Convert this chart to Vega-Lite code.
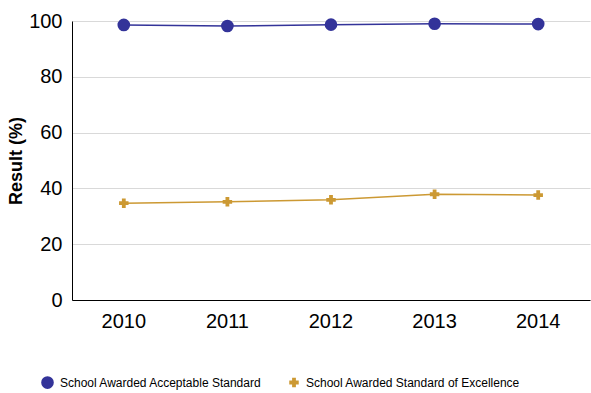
{
  "$schema": "https://vega.github.io/schema/vega-lite/v6.json",
  "autosize": "none",
  "width": 518,
  "height": 279,
  "padding": {"left": 72, "top": 21, "right": 1, "bottom": 93},
  "background": "white",
  "config": {
    "font": "Liberation Sans",
    "view": {"stroke": null}
  },
  "data": {
    "values": [
      {"year": "2010", "series": "School Awarded Acceptable Standard", "value": 98.6},
      {"year": "2011", "series": "School Awarded Acceptable Standard", "value": 98.2},
      {"year": "2012", "series": "School Awarded Acceptable Standard", "value": 98.7},
      {"year": "2013", "series": "School Awarded Acceptable Standard", "value": 99.0},
      {"year": "2014", "series": "School Awarded Acceptable Standard", "value": 98.9},
      {"year": "2010", "series": "School Awarded Standard of Excellence", "value": 34.7},
      {"year": "2011", "series": "School Awarded Standard of Excellence", "value": 35.2},
      {"year": "2012", "series": "School Awarded Standard of Excellence", "value": 35.9},
      {"year": "2013", "series": "School Awarded Standard of Excellence", "value": 37.9},
      {"year": "2014", "series": "School Awarded Standard of Excellence", "value": 37.6}
    ]
  },
  "encoding": {
    "x": {
      "field": "year", "type": "ordinal",
      "scale": {"type": "band", "paddingInner": 0, "paddingOuter": 0},
      "axis": {"title": null, "labelAngle": 0, "labelFontSize": 20, "labelColor": "#000", "labelPadding": 11, "ticks": false, "domainColor": "#000", "domainWidth": 1, "grid": false}
    },
    "y": {
      "field": "value", "type": "quantitative",
      "scale": {"domain": [0, 100]},
      "axis": {"title": "Result (%)", "titleFontSize": 18, "titleFontWeight": "bold", "titleColor": "#000", "titlePadding": 3,
        "values": [0, 20, 40, 60, 80, 100], "labelFontSize": 20, "labelColor": "#000", "labelPadding": 10, "ticks": false,
        "domainColor": "#000", "domainWidth": 1, "gridColor": "#d9d9d9", "gridWidth": 1}
    },
    "color": {
      "field": "series", "type": "nominal",
      "scale": {"domain": ["School Awarded Acceptable Standard", "School Awarded Standard of Excellence"], "range": ["#333399", "#CC9933"]},
      "legend": {
        "title": null, "orient": "none", "direction": "horizontal", "legendX": -31, "legendY": 355,
        "labelFontSize": 12, "labelColor": "#000", "labelLimit": 0, "symbolSize": 150, "symbolStrokeWidth": 0, "columnPadding": 26, "labelOffset": 6
      }
    }
  },
  "layer": [
    {"mark": {"type": "line", "strokeWidth": 1.5}},
    {
      "mark": {"type": "point", "filled": true, "opacity": 1, "size": 150},
      "encoding": {
        "size": {
          "field": "series", "type": "nominal",
          "scale": {"domain": ["School Awarded Acceptable Standard", "School Awarded Standard of Excellence"], "range": [160, 90]},
          "legend": null
        },
        "shape": {
          "field": "series", "type": "nominal",
          "scale": {"domain": ["School Awarded Acceptable Standard", "School Awarded Standard of Excellence"], "range": ["circle", "cross"]},
          "legend": {
            "title": null, "orient": "none", "direction": "horizontal", "legendX": -31, "legendY": 355,
            "labelFontSize": 12, "labelColor": "#000", "labelLimit": 0, "symbolSize": 150, "symbolStrokeWidth": 0, "columnPadding": 26, "labelOffset": 6
          }
        }
      }
    }
  ]
}
